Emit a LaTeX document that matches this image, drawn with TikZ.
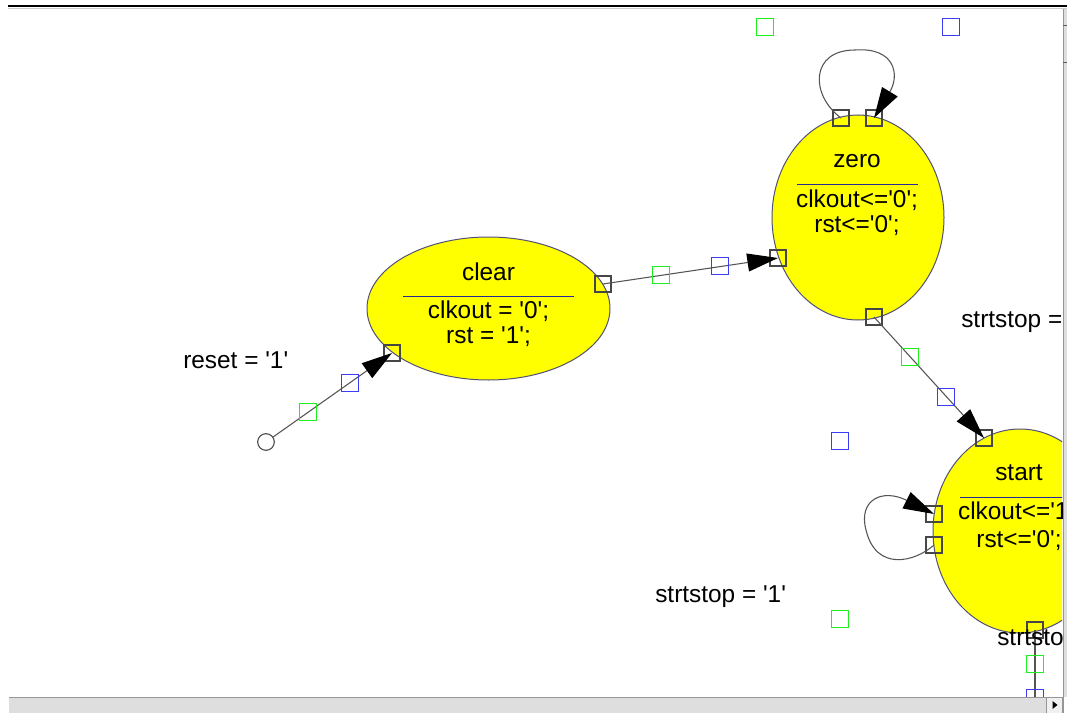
\documentclass[tikz,border=0pt]{standalone}
\usepackage{fontspec}
\setmainfont{Liberation Sans}[Ligatures=TeXOff]
\usetikzlibrary{arrows.meta,shapes.geometric,calc}

\definecolor{stateyellow}{RGB}{255,255,0}
\definecolor{stateedge}{RGB}{80,80,120}
\definecolor{divider}{RGB}{40,40,150}
\definecolor{portgray}{RGB}{70,70,70}
\definecolor{hgreen}{RGB}{30,240,30}
\definecolor{hblue}{RGB}{60,60,245}
\definecolor{wire}{RGB}{85,85,85}
\definecolor{barfill}{RGB}{222,222,222}
\definecolor{baredge}{RGB}{150,150,150}

\tikzset{
  state/.style={ellipse, draw=stateedge, line width=0.75pt, fill=stateyellow, inner sep=0pt},
  port/.style={rectangle, draw=portgray, line width=0.8pt, minimum size=12pt, inner sep=0pt},
  gmark/.style={rectangle, draw=hgreen, line width=1pt, minimum size=12.5pt, inner sep=0pt},
  bmark/.style={rectangle, draw=hblue, line width=1pt, minimum size=12.5pt, inner sep=0pt},
  txt/.style={font=\fontsize{18.3}{22}\selectfont, inner sep=0pt, anchor=base},
  wirestyle/.style={draw=wire, line width=0.8pt},
  bigtip/.style={-{Triangle[length=23pt,width=13.5pt,color=black]}},
  divline/.style={draw=divider, line width=0.75pt},
}

\begin{document}
\begin{tikzpicture}[x=0.75pt,y=-0.75pt]
\useasboundingbox (0,0) rectangle (1067,713);
\fill[white] (0,0) rectangle (1067,713);

\begin{scope}
\clip (0,9) rectangle (1062,697);

% states
\node[state, minimum width=182.25pt, minimum height=107.25pt] (clear) at (488.5,308.5) {};
\node[state, minimum width=129pt, minimum height=153.75pt] (zero) at (858,217.5) {};
\node[state, minimum width=130.5pt, minimum height=153pt] (start) at (1020,531) {};

% state texts
\node[txt] (clearname) at (488.5,280) {clear};
\draw[divline] (403,296) -- (574,296);
\node[txt] (clearact1) at (488.5,318) {clkout = '0';};
\node[txt] (clearact2) at (488.5,343) {rst = '1';};

\node[txt] (zeroname) at (857,168) {zero};
\draw[divline] (797,185) -- (918,185);
\node[txt] (zeroact1) at (857,207) {clkout<='0';};
\node[txt] (zeroact2) at (857,233) {rst<='0';};

\node[txt] (startname) at (1019,480) {start};
\draw[divline] (960,497) -- (1080,497);
\node[txt] (startact1) at (1019,519) {clkout<='1';};
\node[txt] (startact2) at (1019,547) {rst<='0';};

% reset entry point
\node[circle, draw=portgray, line width=0.8pt, fill=white, minimum size=12.5pt, inner sep=0pt] (entry) at (266,442) {};

% ports
\node[port] (clearin) at (392,353) {};
\node[port] (clearout) at (603,284) {};
\node[port] (zeroin) at (778,258) {};
\node[port] (zeroloopa) at (841,118) {};
\node[port] (zeroloopb) at (874,118) {};
\node[port] (zeroout) at (874,317) {};
\node[port] (startin) at (984,438) {};
\node[port] (startloopa) at (934,514) {};
\node[port] (startloopb) at (934,545) {};
\node[port] (startout) at (1035,630) {};

% transitions
\draw[wirestyle, bigtip] (entry) -- (clearin.center);
\draw[wirestyle, bigtip] (clearout.center) -- (zeroin.center);
\draw[wirestyle, bigtip] (zeroloopa.center) .. controls (810,95) and (810,50) .. (855,50)
  .. controls (895,47) and (900,75) .. (zeroloopb.center);
\draw[wirestyle, bigtip] (zeroout.center) -- (startin.center);
\draw[wirestyle, bigtip] (startloopb.center) .. controls (915,562) and (876,572) .. (866,530)
  .. controls (858,500) and (882,488) .. (startloopa.center);
\coordinate (startexit) at (1035,720);
\draw[wirestyle] (startout.center) -- (startexit);

% handle markers
\node[gmark] (g1) at (308,412) {};
\node[bmark] (b1) at (350,383) {};
\node[gmark] (g2) at (661,275) {};
\node[bmark] (b2) at (720,266) {};
\node[gmark] (g3) at (765,27) {};
\node[bmark] (b3) at (951,27) {};
\node[gmark] (g4) at (910,357) {};
\node[bmark] (b4) at (946,397) {};
\node[bmark] (b5) at (840,441) {};
\node[gmark] (g5) at (840,619) {};
\node[gmark] (g6) at (1035,664) {};
\node[bmark] (b6) at (1035,698) {};

% transition labels
\node[txt, anchor=base west] (lreset) at (183,368) {reset = '1'};
\node[txt, anchor=base west] (lstop0) at (961,327) {strtstop = '0'};
\node[txt, anchor=base west] (lstop1) at (655,602) {strtstop = '1'};
\node[txt, anchor=base west] (lstop2) at (997,645) {strtstop = '0'};
\end{scope}

% window frame
\draw[black, line width=2pt] (8,6) -- (1067,6);
\draw[gray!40, line width=0.75pt] (8,8.5) -- (1067,8.5);
\fill[barfill] (1063,9) rectangle (1067,697);
\draw[baredge, line width=0.6pt] (1063,9) -- (1063,713);
\draw[gray!70!black, line width=0.6pt] (1063,25) -- (1067,25);
\draw[gray!70!black, line width=0.6pt] (1063,62) -- (1067,62);
\fill[barfill] (9,697) rectangle (1063,713);
\draw[baredge, line width=0.5pt] (9,697) -- (1063,697);
\node[rectangle, fill=gray!12, draw=baredge, line width=0.5pt, minimum width=12pt, minimum height=12pt, inner sep=0pt] (scrollbtn) at (1054.5,705) {};
\fill[black] ($(scrollbtn.center)+(-2,-4)$) -- ++(5,4) -- ++(-5,4) -- cycle;
\end{tikzpicture}
\end{document}
